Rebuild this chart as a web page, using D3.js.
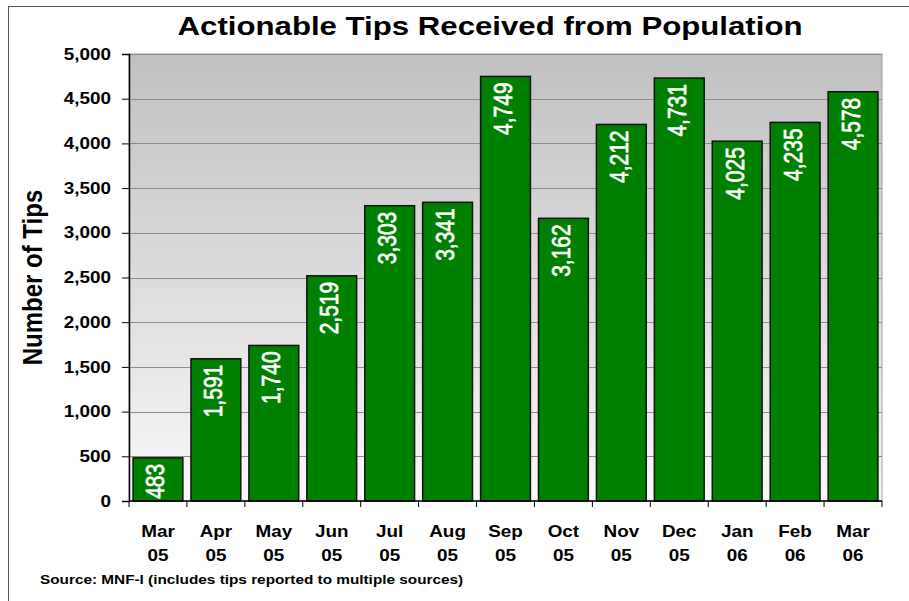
<!DOCTYPE html>
<html>
<head>
<meta charset="utf-8">
<script src="https://cdn.jsdelivr.net/npm/d3@7"></script>
<style>
  html, body { margin: 0; padding: 0; background: #fff; }
  svg { display: block; font-family: "Liberation Sans", Arial, sans-serif; }
</style>
</head>
<body>
<svg id="chart" width="909" height="601"></svg>
<script>
// Monthly actionable tips, March 2005 – March 2006
const months = ["Mar", "Apr", "May", "Jun", "Jul", "Aug", "Sep", "Oct", "Nov", "Dec", "Jan", "Feb", "Mar"];
const years  = ["05", "05", "05", "05", "05", "05", "05", "05", "05", "05", "06", "06", "06"];
const tips   = [483, 1591, 1740, 2519, 3303, 3341, 4749, 3162, 4212, 4731, 4025, 4235, 4578];
const yTicks = [0, 500, 1000, 1500, 2000, 2500, 3000, 3500, 4000, 4500, 5000];

const categories = months.map((m, i) => m + " " + years[i]);
const data = categories.map((c, i) => ({ key: c, month: months[i], year: years[i], value: tips[i] }));

// text is drawn slightly widened horizontally
const SX = 1.18;

const svg = d3.select("#chart");
const margin = { left: 129, right: 27, top: 54, bottom: 100 };
const W = 909, H = 601;
const plotW = W - margin.left - margin.right;
const plotH = H - margin.top - margin.bottom;

// outer frame
svg.append("rect")
  .attr("x", 8.5).attr("y", 6.5)
  .attr("width", 920).attr("height", 620)
  .attr("fill", "none").attr("stroke", "#555").attr("stroke-width", 1);

const x = d3.scaleBand().domain(categories).range([0, plotW]).paddingInner(0.14).paddingOuter(0.07);
const y = d3.scaleLinear().domain([0, 5000]).range([plotH, 0]);

const g = svg.append("g").attr("transform", `translate(${margin.left},${margin.top})`);

// plot-area gradient background
const defs = svg.append("defs");
const grad = defs.append("linearGradient").attr("id", "bg").attr("x1", 0).attr("y1", 0).attr("x2", 0).attr("y2", 1);
grad.append("stop").attr("offset", "0%").attr("stop-color", "#c0c0c0");
grad.append("stop").attr("offset", "100%").attr("stop-color", "#f8f8f8");

g.append("rect").attr("width", plotW).attr("height", plotH).attr("fill", "url(#bg)")
  .attr("stroke", "#a0a0a0").attr("stroke-width", 1);

// horizontal gridlines
g.append("g").selectAll("line").data(yTicks.filter(t => t > 0)).join("line")
  .attr("x1", 0).attr("x2", plotW)
  .attr("y1", d => Math.round(y(d)) + 0.5).attr("y2", d => Math.round(y(d)) + 0.5)
  .attr("stroke", "#8c8c8c").attr("stroke-width", 1);

// bars
g.append("g").selectAll("rect").data(data).join("rect")
  .attr("x", d => x(d.key))
  .attr("y", d => y(d.value))
  .attr("width", x.bandwidth())
  .attr("height", d => plotH - y(d.value))
  .attr("fill", "#008000")
  .attr("stroke", "#111").attr("stroke-width", 1.5);

// value labels, rotated, inside top of bar
const fmt = d3.format(",");
g.append("g").selectAll("text").data(data).join("text")
  .attr("transform", d => `translate(${x(d.key) + x.bandwidth() / 2 + 6.5},${y(d.value) + 6}) scale(1.2,1) rotate(-90)`)
  .attr("text-anchor", "end")
  .attr("fill", "#fff")
  .attr("stroke", "#fff").attr("stroke-width", 0.6)
  .attr("font-size", 21)
  .text(d => fmt(d.value));

// y axis
const yAxis = d3.axisLeft(y).tickValues(yTicks).tickFormat(fmt).tickSize(7).tickPadding(0);
const ya = g.append("g").call(yAxis);
ya.select(".domain").attr("stroke", "#000").attr("stroke-width", 1.5);
ya.selectAll(".tick line").attr("stroke", "#000");
ya.selectAll(".tick text")
  .attr("x", null)
  .attr("transform", `translate(-18,0) scale(${SX},1)`)
  .attr("font-size", 16).attr("font-weight", "bold").attr("fill", "#000")
  .attr("font-family", "Liberation Sans, Arial, sans-serif");

// x axis: ticks at band boundaries
const xa = g.append("g").attr("transform", `translate(0,${plotH})`);
xa.append("line").attr("x1", 0).attr("x2", plotW).attr("y1", 0).attr("y2", 0)
  .attr("stroke", "#000").attr("stroke-width", 1.5);
const step = x.step();
const bounds = d3.range(categories.length + 1).map(i => i * step);
xa.selectAll("line.tk").data(bounds).join("line").attr("class", "tk")
  .attr("x1", d => d).attr("x2", d => d).attr("y1", 0).attr("y2", 6)
  .attr("stroke", "#000");
const lbl = xa.selectAll("text").data(data).join("text")
  .attr("transform", d => `translate(${x(d.key) + x.bandwidth() / 2},0) scale(${SX},1)`)
  .attr("text-anchor", "middle")
  .attr("font-size", 16).attr("font-weight", "bold").attr("fill", "#000");
lbl.append("tspan").attr("x", 0).attr("y", 36).text(d => d.month);
lbl.append("tspan").attr("x", 0).attr("y", 60).text(d => d.year);

// title
svg.append("text").attr("transform", `translate(490,35) scale(1.2,1)`).attr("text-anchor", "middle")
  .attr("font-size", 26).attr("font-weight", "bold").attr("fill", "#000")
  .text("Actionable Tips Received from Population");

// y axis title
svg.append("text").attr("transform", `translate(42,${margin.top + plotH / 2}) scale(${SX},1) rotate(-90)`)
  .attr("text-anchor", "middle")
  .attr("font-size", 24).attr("font-weight", "bold").attr("fill", "#000")
  .text("Number of Tips");

// source note
svg.append("text").attr("transform", `translate(40,584) scale(${SX},1)`)
  .attr("font-size", 13).attr("font-weight", "bold").attr("fill", "#000")
  .text("Source: MNF-I (includes tips reported to multiple sources)");
</script>
</body>
</html>
